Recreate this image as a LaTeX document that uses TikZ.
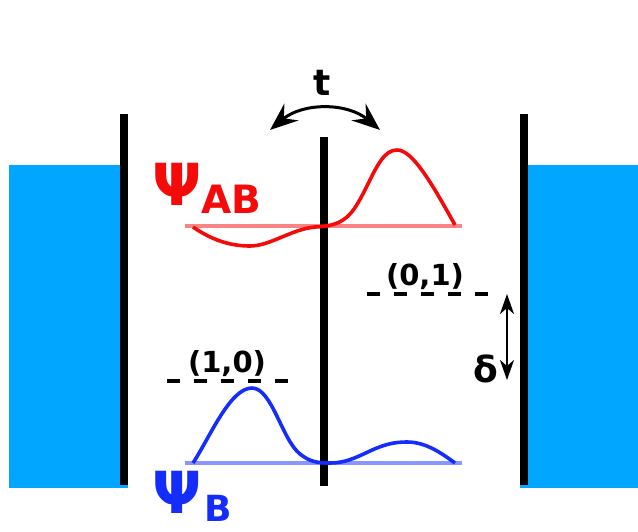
\documentclass[tikz,border=0pt]{standalone}
\usepackage{fontspec}
\setmainfont{DejaVu Sans}
\usepackage{tikz}
\usetikzlibrary{arrows.meta, positioning}
\definecolor{resblue}{RGB}{0,166,255}
\definecolor{psired}{RGB}{245,10,10}
\definecolor{psiblue}{RGB}{20,45,250}

\begin{document}
\begin{tikzpicture}[
      x=1pt, y=-1pt,
      wall/.style={line width=8pt},
      reservoir/.style={fill=resblue, draw=none},
      psi/.style={line width=3.6pt, line join=round, #1},
      base/.style={line width=3.5pt, draw=#1, opacity=0.5},
      level/.style={line width=3.5pt, dash pattern=on 13pt off 14pt},
      lbl/.style={font=\bfseries\fontsize{29}{29}\selectfont, inner sep=0pt},
      big/.style={font=\bfseries\fontsize{36}{36}\selectfont},
      psilbl/.style={font=\bfseries\fontsize{58}{58}\selectfont, text=#1},
      arr/.style={{Stealth[length=28pt,width=22pt,inset=10pt]}-{Stealth[length=28pt,width=22pt,inset=10pt]}, line width=3pt}
  ]
    \useasboundingbox (0,0) rectangle (638,531);

    % reservoirs and barriers
    \fill[reservoir] (9,165) rectangle (128,488);
    \fill[reservoir] (520,165) rectangle (638,488);
    \draw[wall] (124,114) -- (124,485);
    \draw[wall] (524,114) -- (524,485);
    \draw[wall] (324,137) -- (324,486);

    % baselines
    \draw[base=psired]  (185,226) -- (462,226);
    \draw[base=psiblue] (185,463) -- (462,463);

    % wave functions
    \draw[psi=psired] (193,227) .. controls (212,240) and (230,246) .. (250,246)
          .. controls (270,246) and (292,229) .. (315,227)
          .. controls (345,226) and (352,215) .. (365,190)
          .. controls (378,163) and (385,150) .. (397,150)
          .. controls (412,150) and (430,180) .. (455,225);
    \draw[psi=psiblue] (193,463) .. controls (210,437) and (230,388) .. (252,388)
          .. controls (272,388) and (282,440) .. (300,454)
          .. controls (310,462) and (318,463) .. (330,463)
          .. controls (345,463) and (355,458) .. (370,451)
          .. controls (385,444) and (395,442) .. (407,442)
          .. controls (425,442) and (440,452) .. (455,463);

    % energy levels
    \draw[level] (167,381) -- (290,381);
    \draw[level] (367,294) -- (490,294);
    \node[lbl, anchor=base] (lvlB) at (227,372) {(1,0)};
    \node[lbl, anchor=base] (lvlA) at (425,285) {(0,1)};

    % labels
    \node[lbl, anchor=base west, psilbl=psired] (psiAB) at (152,205)
          {Ψ\raisebox{-8pt}[0pt][0pt]{\fontsize{39}{39}\selectfont AB}};
    \node[lbl, anchor=base west, psilbl=psiblue] (psiB) at (152,513)
          {Ψ\kern3pt\raisebox{-8pt}[0pt][0pt]{\fontsize{36}{36}\selectfont B}};

    % tunnelling
    \coordinate (tl) at (270,130);
    \coordinate (tr) at (380,130);
    \draw[arr] (tl) to[bend left=40] (tr);
    \node[lbl, big, anchor=base] (tun) at (322,95) {t};

    % detuning
    \coordinate (dtop) at (507,294);
    \coordinate (dbot) at (507,380);
    \draw[line width=2.4pt, {Stealth[length=20pt,width=14pt,inset=6pt]}-{Stealth[length=20pt,width=14pt,inset=6pt]}] (dtop) -- (dbot);
    \node[lbl, big, anchor=base] (del) at (486,382) {δ};
  \end{tikzpicture}
\end{document}
